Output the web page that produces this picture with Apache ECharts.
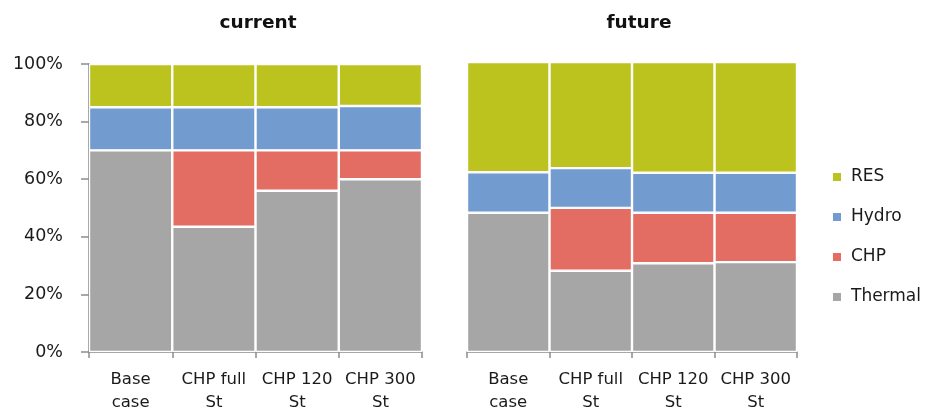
<!DOCTYPE html>
<html>
<head>
<meta charset="utf-8">
<script src="https://cdn.jsdelivr.net/npm/echarts@6/dist/echarts.min.js"></script>
<style>
  html, body { margin: 0; padding: 0; background: #fff; }
  #chart { width: 927px; height: 414px; }
</style>
</head>
<body>
<div id="chart"></div>
<script>
// Scenario categories (shared by both panels)
const categories = ['Base\ncase', 'CHP full\nSt', 'CHP 120\nSt', 'CHP 300\nSt'];

// Generation mix shares (%) – current system
const currentThermal = [70, 43.5, 56, 60];
const currentCHP     = [0, 26.5, 14, 10];
const currentHydro   = [15, 15, 15, 15.4];
const currentRES     = [15, 15, 15, 14.6];

// Generation mix shares (%) – future system
const futureThermal = [48, 28, 30.6, 31];
const futureCHP     = [0, 21.7, 17.4, 17];
const futureHydro   = [14, 13.7, 13.8, 13.8];
const futureRES     = [38, 36.6, 38.2, 38.2];

const panelTitles = ['current', 'future'];
const legendOrder = ['RES', 'Hydro', 'CHP', 'Thermal'];
const yTicks = [0, 20, 40, 60, 80, 100];

const colors = { RES: '#bcc21e', Hydro: '#729bd0', CHP: '#e36d62', Thermal: '#a6a6a6' };
const font = '"DejaVu Sans", sans-serif';
const axisGray = '#8c8c8c';
const textColor = '#1a1a1a';

function bar(name, data, idx) {
  return {
    name: name, type: 'bar', stack: 'mix' + idx,
    xAxisIndex: idx, yAxisIndex: idx,
    data: data, barCategoryGap: 0,
    itemStyle: { color: colors[name], borderColor: '#fff', borderWidth: 1.2 },
    emphasis: { disabled: true }
  };
}

function xAxis(idx) {
  return {
    type: 'category', gridIndex: idx, data: categories,
    axisLine: { lineStyle: { color: axisGray, width: 1.5 } },
    axisTick: { show: true, length: 6, lineStyle: { color: axisGray, width: 1.5 } },
    axisLabel: { color: textColor, fontSize: 16.5, fontFamily: font, lineHeight: 23, margin: 16, interval: 0 }
  };
}

function yAxis(idx, visible) {
  return {
    type: 'value', gridIndex: idx, min: 0, max: 100, interval: 20,
    splitLine: { show: false },
    axisLine: { show: visible, lineStyle: { color: axisGray, width: 1.5 } },
    axisTick: { show: visible, length: 8, lineStyle: { color: axisGray, width: 1.5 } },
    axisLabel: {
      show: visible, color: textColor, fontSize: 17.5, fontFamily: font, margin: 26,
      formatter: v => (yTicks.includes(v) ? v + '%' : '')
    }
  };
}

const titleStyle = { fontSize: 18.5, fontWeight: 'bold', fontFamily: font, color: '#111' };

const chart = echarts.init(document.getElementById('chart'), null, { renderer: 'canvas' });
chart.setOption({
  animation: false,
  backgroundColor: '#fff',
  title: [
    { text: panelTitles[0], left: 253, top: 9, textAlign: 'center', textStyle: titleStyle },
    { text: panelTitles[1], left: 634, top: 9, textAlign: 'center', textStyle: titleStyle }
  ],
  legend: {
    orient: 'vertical', left: 826, top: 163,
    itemWidth: 10, itemHeight: 10, itemGap: 22,
    icon: 'rect',
    data: legendOrder,
    textStyle: { fontSize: 17, fontFamily: font, color: textColor, lineHeight: 18, padding: [0, 0, 0, 4] }
  },
  grid: [
    { left: 89, right: 505, top: 64, bottom: 62 },
    { left: 467, right: 130, top: 62, bottom: 62 }
  ],
  xAxis: [xAxis(0), xAxis(1)],
  yAxis: [yAxis(0, true), yAxis(1, false)],
  series: [
    bar('Thermal', currentThermal, 0),
    bar('CHP', currentCHP, 0),
    bar('Hydro', currentHydro, 0),
    bar('RES', currentRES, 0),
    bar('Thermal', futureThermal, 1),
    bar('CHP', futureCHP, 1),
    bar('Hydro', futureHydro, 1),
    bar('RES', futureRES, 1)
  ]
});
</script>
</body>
</html>
